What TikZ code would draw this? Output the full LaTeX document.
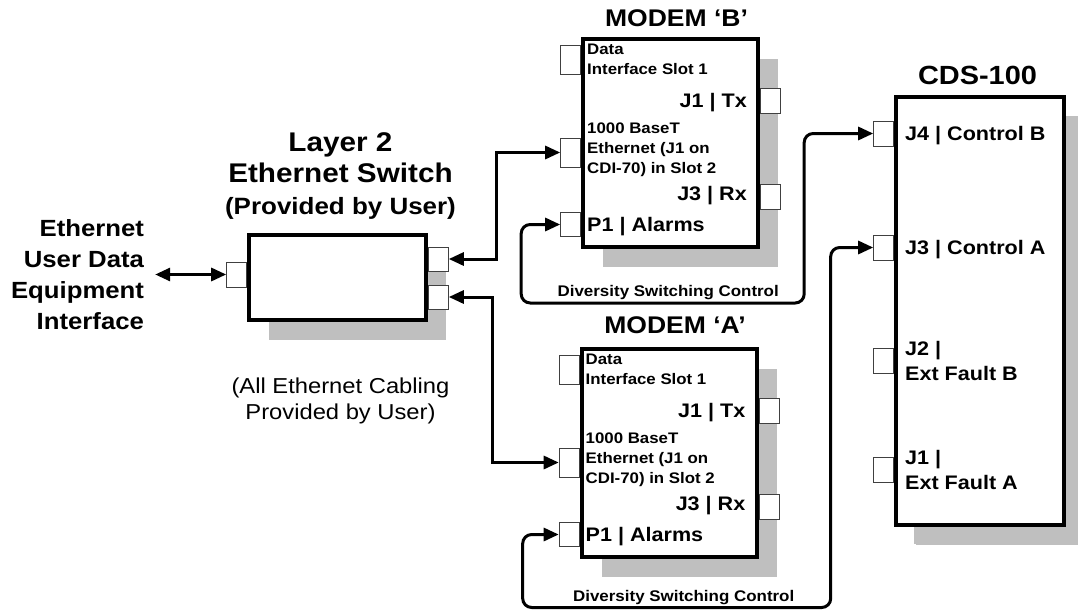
\documentclass[tikz,border=0pt]{standalone}
\usepackage{fontspec}
\setmainfont{Liberation Sans}[FakeStretch=1.1]
\usepackage{tikz}
\usetikzlibrary{arrows.meta,positioning,shadows}
\definecolor{shade}{HTML}{BFBFBF}
\definecolor{edge}{HTML}{404040}

\begin{document}
\begin{tikzpicture}[
    x=1pt,y=-1pt,
    >={Triangle[length=15pt,width=13pt]},
    unit/.style={draw,line width=4pt,fill=white,inner sep=0pt,
      drop shadow={shadow xshift=20pt,shadow yshift=-20pt,fill=shade,opacity=1}},
    modembox/.style={unit,minimum width=175pt,minimum height=208pt},
    port/.style={draw=edge,fill=white,line width=0.8pt,minimum width=20pt,minimum height=25pt,inner sep=0pt},
    tallport/.style={port,minimum height=29pt},
    head/.style={font=\bfseries\fontsize{24.1}{29}\selectfont,inner sep=0pt,text depth=0pt,align=center},
    tag/.style={font=\bfseries\fontsize{19.6}{25}\selectfont,inner sep=0pt,text depth=0pt,align=left},
    small/.style={font=\bfseries\fontsize{15.3}{20}\selectfont,inner sep=0pt,text depth=0pt,align=left},
    dsc/.style={font=\bfseries\fontsize{15.4}{18}\selectfont,inner sep=0pt,text depth=0pt},
    link/.style={<->,line width=3pt},
    ctrl/.style={link,rounded corners=9pt}
  ]
    \useasboundingbox (0,0) rectangle (1078,613);

    % units
    \node[unit,minimum width=177pt,minimum height=85pt] (switch) at (337.5,277.5) {};
    \node[modembox] (modemB) at (670.5,143) {};
    \node[modembox] (modemA) at (669,453) {};
    \node[unit,minimum width=168pt,minimum height=428pt,
      drop shadow={shadow xshift=18pt,shadow yshift=-19pt,fill=shade,opacity=1}] (cds) at (980,311) {};

    % titles
    \node[head,above=18pt of switch,xshift=3pt,font=\bfseries\fontsize{23.6}{28}\selectfont] (swnote) {(Provided by User)};
    \node[head,above=14.4pt of swnote,font=\bfseries\fontsize{27}{31.6}\selectfont] (swttl) {Layer 2\\Ethernet Switch};
    \node[head,above=10.5pt of modemB,xshift=6pt] (ttlB) {MODEM ‘B’};
    \node[head,above=13pt of modemA,xshift=6pt] (ttlA) {MODEM ‘A’};
    \node[head,above=10.5pt of cds,xshift=-2.5pt,font=\bfseries\fontsize{26.3}{31}\selectfont] (ttlC) {CDS-100};

    % switch ports
    \node[port,anchor=east] (swpL) at ([yshift=3pt]switch.west) {};
    \node[port,minimum height=24pt,anchor=west] (swp1) at ([yshift=18.5pt]switch.east) {};
    \node[port,minimum height=24pt,anchor=west] (swp2) at ([yshift=-19.5pt]switch.east) {};

    % modem B
    \node[tallport,anchor=east] (bData) at ([yshift=83.5pt]modemB.west) {};
    \node[tallport,anchor=east] (bEth) at ([yshift=-9.5pt]modemB.west) {};
    \node[port,minimum height=24pt,anchor=east] (bP1) at ([yshift=-81.5pt]modemB.west) {};
    \node[port,anchor=west] (bJ1) at ([yshift=42.5pt]modemB.east) {};
    \node[port,anchor=west] (bJ3) at ([yshift=-53.5pt]modemB.east) {};
    \node[small,right=6pt of bData] (bDataT) {Data\\Interface Slot 1};
    \node[small,right=6pt of bEth,yshift=4pt] (bEthT) {1000 BaseT\\Ethernet (J1 on\\CDI-70) in Slot 2};
    \node[tag,right=6pt of bP1] (bP1T) {P1 | Alarms};
    \node[tag,left=13pt of bJ1] (bJ1T) {J1 | Tx};
    \node[tag,left=13pt of bJ3,yshift=3pt] (bJ3T) {J3 | Rx};

    % modem A
    \node[tallport,anchor=east] (aData) at ([yshift=83.5pt]modemA.west) {};
    \node[tallport,anchor=east] (aEth) at ([yshift=-9.5pt]modemA.west) {};
    \node[port,minimum height=24pt,anchor=east] (aP1) at ([yshift=-81.5pt]modemA.west) {};
    \node[port,anchor=west] (aJ1) at ([yshift=42.5pt]modemA.east) {};
    \node[port,anchor=west] (aJ3) at ([yshift=-53.5pt]modemA.east) {};
    \node[small,right=6pt of aData] (aDataT) {Data\\Interface Slot 1};
    \node[small,right=6pt of aEth,yshift=4pt] (aEthT) {1000 BaseT\\Ethernet (J1 on\\CDI-70) in Slot 2};
    \node[tag,right=6pt of aP1] (aP1T) {P1 | Alarms};
    \node[tag,left=13pt of aJ1] (aJ1T) {J1 | Tx};
    \node[tag,left=13pt of aJ3,yshift=3pt] (aJ3T) {J3 | Rx};

    % CDS-100
    \node[port,anchor=east] (cJ4) at ([yshift=177.5pt]cds.west) {};
    \node[port,anchor=east] (cJ3) at ([yshift=63.5pt]cds.west) {};
    \node[port,anchor=east] (cJ2) at ([yshift=-49.5pt]cds.west) {};
    \node[port,anchor=east] (cJ1) at ([yshift=-158.5pt]cds.west) {};
    \node[tag,right=11pt of cJ4] (cJ4T) {J4 | Control B};
    \node[tag,right=11pt of cJ3] (cJ3T) {J3 | Control A};
    \node[tag,right=11pt of cJ2] (cJ2T) {J2 |\\Ext Fault B};
    \node[tag,right=11pt of cJ1] (cJ1T) {J1 |\\Ext Fault A};

    % user side
    \node[font=\bfseries\fontsize{23.4}{31.3}\selectfont,align=right,inner sep=0pt,inner xsep=11pt,
      text depth=0pt,left=71pt of swpL] (user) {Ethernet\\User Data\\Equipment\\Interface};
    \node[font=\fontsize{21.6}{26}\selectfont,align=center,inner sep=0pt,below=56pt of switch,xshift=3pt] (cabling)
      {(All Ethernet Cabling\\Provided by User)};

    \draw[link] (user.east) -- (swpL.west);
    \draw[link] (swp1.east) -- ++(48,0) |- (bEth.west);
    \draw[link] (swp2.east) -- ++(44,0) |- (aEth.west);
    \draw[ctrl] (bP1.west) -- ++(-39,0) -- ++(0,78.5)
      -- ++(283,0) node[dsc,midway,above=5pt,xshift=5.5pt] (dscB) {Diversity Switching Control}
      |- (cJ4.west);
    \draw[ctrl] (aP1.west) -- ++(-36,0) -- ++(0,73)
      -- ++(308,0) node[dsc,midway,above=5pt,xshift=7pt] (dscA) {Diversity Switching Control}
      |- (cJ3.west);
  \end{tikzpicture}
\end{document}
